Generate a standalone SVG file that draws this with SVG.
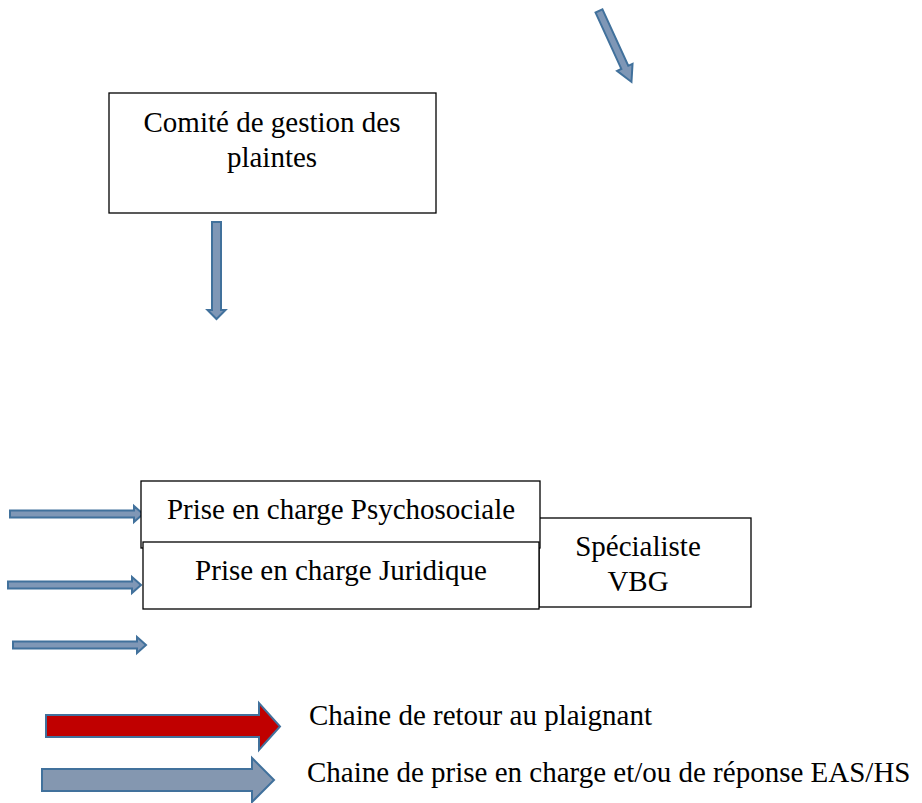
<svg xmlns="http://www.w3.org/2000/svg" width="922" height="803" viewBox="0 0 922 803">
  <style>
    .box { fill: #ffffff; stroke: #000000; stroke-width: 1.3; }
    .lbl { font-family: "Liberation Serif", "Times New Roman", serif; font-size: 29px; fill: #000000; }
    .mid { text-anchor: middle; }
    .thin { fill: #7f97b6; stroke: #41719c; stroke-width: 2; stroke-linejoin: miter; }
    .big-red { fill: #c00000; stroke: #41719c; stroke-width: 2; }
    .big-blue { fill: #8497b0; stroke: #41719c; stroke-width: 2; }
  </style>

  <rect width="922" height="803" fill="#ffffff"/>

  <g id="connectors">
    <!-- diagonal arrow, top right -->
    <polygon class="thin" transform="translate(599,11) rotate(65.4)"
             points="0,-3.8 62,-3.8 62,-8.5 78,0 62,8.5 62,3.8 0,3.8"/>
    <!-- arrow below the committee -->
    <polygon class="thin" points="212,222 221,222 221,310 225.5,310 216.5,319 207.5,310 212,310"/>
    <!-- arrows at the left of the care boxes -->
    <polygon class="thin" points="10,510.5 134,510.5 134,506 143,514 134,522 134,517.5 10,517.5"/>
    <polygon class="thin" points="8,581.5 132,581.5 132,577 141,585 132,593 132,588.5 8,588.5"/>
    <polygon class="thin" points="13,641.5 137,641.5 137,637 146,645 137,653 137,648.5 13,648.5"/>
  </g>

  <g id="comite">
    <rect class="box" x="109" y="93" width="327" height="120"/>
    <text class="lbl mid" x="272" y="132">Comité de gestion des</text>
    <text class="lbl mid" x="272" y="167">plaintes</text>
  </g>

  <g id="specialiste">
    <rect class="box" x="539" y="518" width="212" height="89"/>
    <text class="lbl mid" x="638" y="556">Spécialiste</text>
    <text class="lbl mid" x="638" y="591">VBG</text>
  </g>

  <g id="psychosociale">
    <rect class="box" x="141" y="481" width="399" height="67"/>
    <text class="lbl mid" x="341" y="519">Prise en charge Psychosociale</text>
  </g>

  <g id="juridique">
    <rect class="box" x="143" y="542" width="396" height="67"/>
    <text class="lbl mid" x="341" y="580">Prise en charge Juridique</text>
  </g>

  <g id="legend">
    <polygon class="big-red" points="46,715 259,715 259,703 280,726.5 259,750 259,737 46,737"/>
    <text class="lbl" x="309" y="725">Chaine de retour au plaignant</text>
    <polygon class="big-blue" points="42,769 252,769 252,758 274,780 252,802 252,791 42,791"/>
    <text class="lbl" x="307" y="782">Chaine de prise en charge et/ou de réponse EAS/HS</text>
  </g>
</svg>
